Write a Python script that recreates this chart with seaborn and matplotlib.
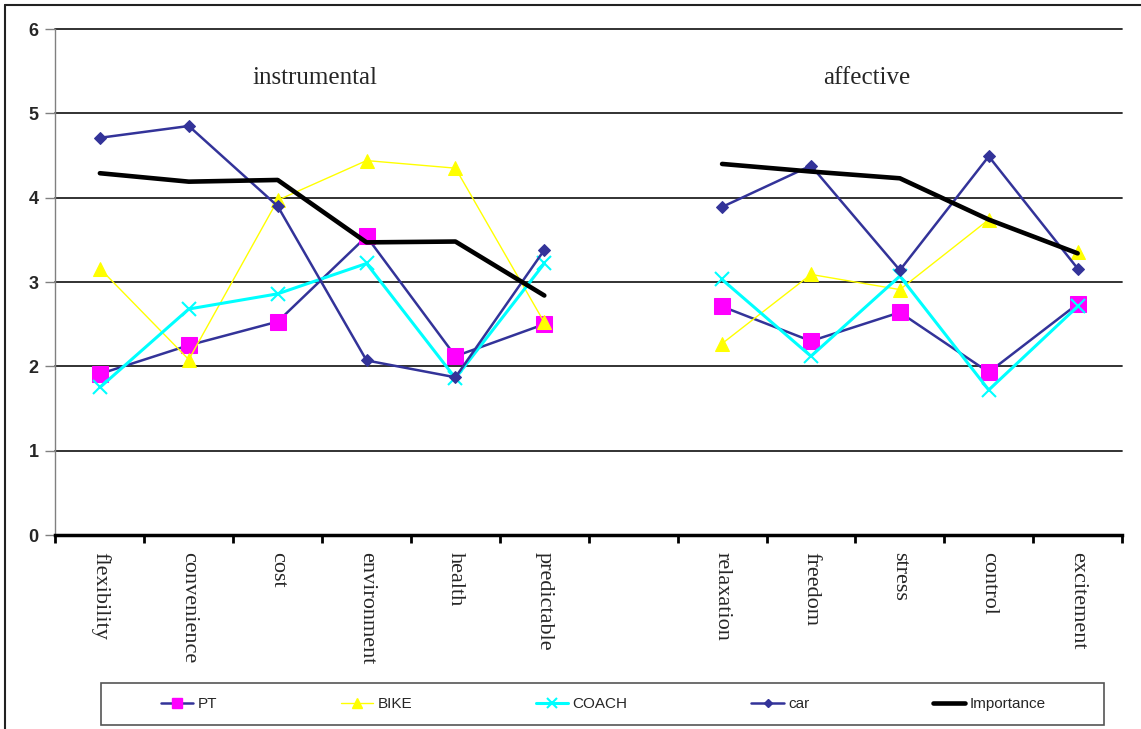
import numpy as np
import pandas as pd
import matplotlib
matplotlib.use("Agg")
import matplotlib.pyplot as plt
from matplotlib.lines import Line2D
from matplotlib.patches import Rectangle
import seaborn as sns

# categories (empty slot separates the two groups)
attributes = ["flexibility", "convenience", "cost", "environment", "health", "predictable", "",
              "relaxation", "freedom", "stress", "control", "excitement"]
groups = ["instrumental"] * 6 + ["gap"] + ["affective"] * 5

pt = [1.91, 2.25, 2.53, 3.54, 2.12, 2.50, np.nan, 2.71, 2.30, 2.64, 1.93, 2.74]
bike = [3.16, 2.08, 3.97, 4.44, 4.35, 2.52, np.nan, 2.27, 3.09, 2.91, 3.74, 3.35]
coach = [1.75, 2.68, 2.86, 3.22, 1.86, 3.22, np.nan, 3.03, 2.12, 3.07, 1.72, 2.71]
car = [4.71, 4.85, 3.90, 2.07, 1.87, 3.38, np.nan, 3.89, 4.38, 3.14, 4.49, 3.16]
importance = [4.29, 4.19, 4.21, 3.47, 3.48, 2.84, np.nan, 4.40, 4.31, 4.23, 3.74, 3.34]

series = {"PT": pt, "BIKE": bike, "COACH": coach, "car": car, "Importance": importance}

rows = []
for name, vals in series.items():
    for i, v in enumerate(vals):
        rows.append({"series": name, "pos": i, "group": groups[i], "value": v})
df = pd.DataFrame(rows).dropna()

styles = {
    "PT": dict(color="#333399", linewidth=1.8, marker="s", markersize=11,
               markerfacecolor="#FF00FF", markeredgecolor="#FF00FF"),
    "BIKE": dict(color="#FFFF00", linewidth=1.0, marker="^", markersize=10,
                 markerfacecolor="#FFFF00", markeredgecolor="#FFFF00"),
    "COACH": dict(color="#00FFFF", linewidth=2.2, marker="x", markersize=10,
                  markeredgewidth=1.5, markeredgecolor="#00FFFF"),
    "car": dict(color="#333399", linewidth=1.8, marker="D", markersize=6.5,
                markerfacecolor="#333399", markeredgecolor="#333399"),
    "Importance": dict(color="black", linewidth=3.3),
}

sns.set_style("white")
plt.rcParams["font.family"] = ["Liberation Sans", "DejaVu Sans"]

fig = plt.figure(figsize=(11.41, 7.29), dpi=100)
ax = fig.add_axes([0.0486, 0.2661, 0.9348, 0.6941])

for name in series:
    sub = df[df["series"] == name]
    sns.lineplot(data=sub, x="pos", y="value", units="group", estimator=None,
                 sort=False, legend=False, ax=ax, **styles[name])

ax.set_xlim(-0.5, 11.5)
ax.set_ylim(0, 6)
ax.set_yticks(range(7))
ax.set_xticks(range(len(attributes)))
ax.set_xticklabels(attributes, rotation=-90, va="top", ha="center",
                   fontsize=16, family="Liberation Serif")
ax.set_xticks(np.arange(-0.5, 12, 1), minor=True)
ax.tick_params(axis="x", which="major", bottom=True, length=0, pad=12)
ax.tick_params(axis="x", which="minor", bottom=True, length=6, width=2,
               color="black", direction="out")
ax.tick_params(axis="y", left=True, length=7, width=1, color="#808080",
               direction="out", pad=5)
for lab in ax.get_yticklabels():
    lab.set_fontweight("bold")
    lab.set_fontsize(13)
ax.set_xlabel("")
ax.set_ylabel("")

ax.yaxis.grid(True, color="#222222", linewidth=1.3)
ax.xaxis.grid(False)
ax.set_axisbelow(True)
for gl in ax.get_ygridlines():
    gl.set_clip_on(False)
for s in ["top", "right"]:
    ax.spines[s].set_visible(False)
ax.spines["left"].set_color("#808080")
ax.spines["left"].set_linewidth(1)
ax.spines["bottom"].set_color("black")
ax.spines["bottom"].set_linewidth(2.5)

ax.text(0.2433, 0.903, "instrumental", transform=ax.transAxes, ha="center", va="center",
        fontsize=18, family="Liberation Serif")
ax.text(0.761, 0.903, "affective", transform=ax.transAxes, ha="center", va="center",
        fontsize=18, family="Liberation Serif")

# legend
handles = []
for name in series:
    st = dict(styles[name])
    if "markersize" in st:
        st["markersize"] = st["markersize"] * 0.65
    handles.append(Line2D([], [], **st))
fig.legend(handles, list(series.keys()), loc="center",
           bbox_to_anchor=(603.5 / 1141, 1 - 704 / 729), ncol=5, frameon=False,
           fontsize=11, handlelength=2.1, handletextpad=0.3, columnspacing=8.1)
fig.patches.append(Rectangle((101 / 1141, 1 - 725 / 729), 1003 / 1141, 42 / 729,
                             transform=fig.transFigure, fill=False,
                             edgecolor="#555555", linewidth=1.2))

# outer chart border
fig.add_artist(Line2D([5 / 1141, 1.0], [1 - 5 / 729, 1 - 5 / 729],
                      transform=fig.transFigure, color="#222222", linewidth=1.5))
fig.add_artist(Line2D([5 / 1141, 5 / 1141], [0.0, 1 - 5 / 729],
                      transform=fig.transFigure, color="#222222", linewidth=1.5))

fig.savefig("out.png", dpi=100)
